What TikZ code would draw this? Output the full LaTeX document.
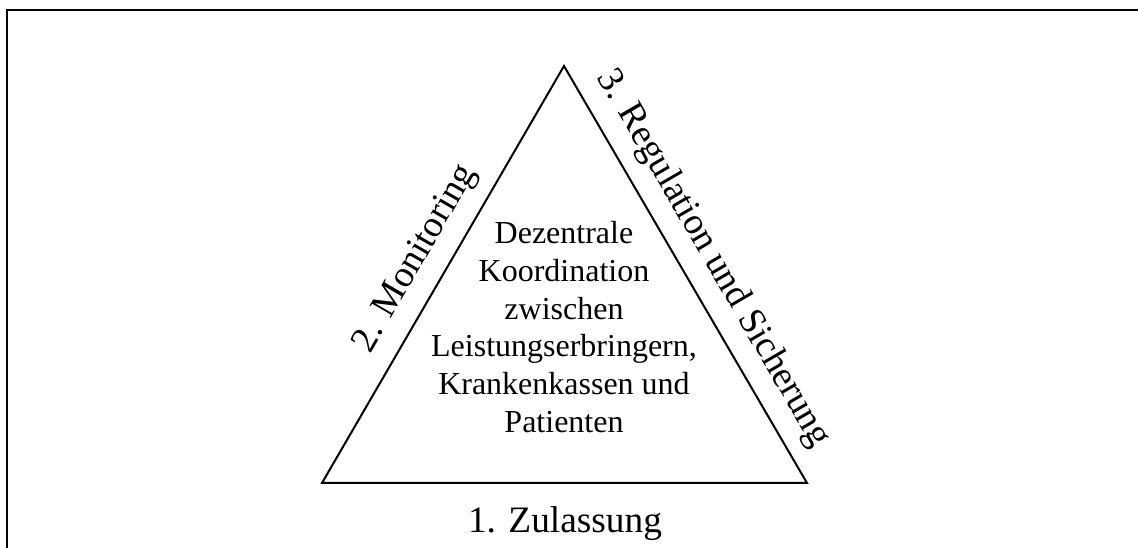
\documentclass[tikz,border=0pt]{standalone}
\usepackage{fontspec}
\setmainfont{Liberation Serif}
\usetikzlibrary{positioning}
\tikzset{side label/.style={sloped,anchor=south,inner xsep=0pt,inner ysep=5.2pt,font=\fontsize{14}{16}\selectfont},
         center text/.style={align=center,inner sep=0pt,font=\fontsize{12}{14.2}\selectfont},}

\begin{document}
\begin{tikzpicture}[x=0.375pt, y=-0.375pt, line width=0.75pt]
    \useasboundingbox (0,0) rectangle (1138,548);
    % Rahmen (nur oben und links sichtbar)
    \draw[line width=0.85pt] (7,548) -- (7,10) -- (1138,10);

    % Dreieck
    \coordinate (spitze) at (564,66);
    \coordinate (links) at (322,483);
    \coordinate (rechts) at (807,483);
    \draw (links) -- node[side label] (mon) {2. Monitoring} (spitze)
          -- node[side label] (reg) {3. Regulation und Sicherung} (rechts)
          -- cycle;

    \node[center text] (mitte) at (564,327) {Dezentrale\\Koordination\\zwischen\\Leistungserbringern,\\Krankenkassen und\\Patienten};
    \node[anchor=base, font=\fontsize{14}{16}\selectfont] (zul) at (565,533) {1. Zulassung};
\end{tikzpicture}
\end{document}
